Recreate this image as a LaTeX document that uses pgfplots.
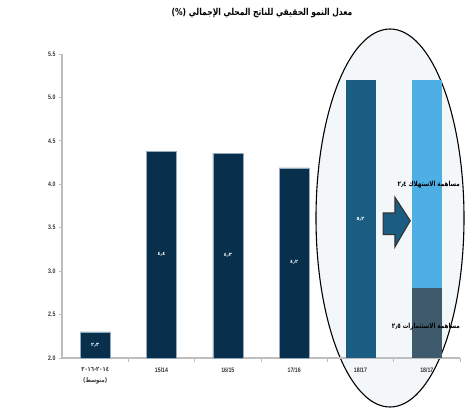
\documentclass[border=0pt]{standalone}
\usepackage{pgfplots}
\pgfplotsset{compat=1.18}
\usepackage{fontspec}
\setmainfont{Liberation Sans}
\newfontfamily\narrowfont[FakeStretch=0.8]{Liberation Sans}
\newfontfamily\arabicfont[Script=Arabic]{DejaVu Sans}
\newfontfamily\arabicnarrow[Script=Arabic,FakeStretch=0.8]{DejaVu Sans}
\TeXXeTstate=1
\definecolor{navy}{RGB}{8,48,77}
\definecolor{midblue}{RGB}{26,92,130}
\definecolor{lightblue}{RGB}{77,175,228}
\definecolor{slate}{RGB}{62,90,108}
\definecolor{ellfill}{RGB}{244,247,250}
\definecolor{axisgray}{RGB}{190,190,190}
\definecolor{baredge}{RGB}{150,170,190}
\begin{document}
\begin{tikzpicture}[x=1pt,y=1pt]
\useasboundingbox (0,0) rectangle (471,408);
\filldraw[fill=ellfill, draw=black, line width=1.1pt] (390,190) ellipse [x radius=74, y radius=189];
\node[font=\arabicnarrow\bfseries\fontsize{9.5}{10}\selectfont] at (262,395) {\beginR معدل النمو الحقيقي للناتج المحلي الإجمالي (\%)\endR};
\begin{axis}[
  at={(62pt,50pt)}, anchor=south west,
  width=398pt, height=304pt, scale only axis,
  xmin=-0.5, xmax=5.5, ymin=2, ymax=5.5,
  axis x line*=bottom, axis y line*=left,
  axis line style={draw=axisgray, line width=1.5pt, -},
  xtick={0,1,2,3,4,5},
  xticklabels={{\arabicnarrow\mbox{٢٠١٦}-\mbox{٢٠١٤}\\\arabicnarrow\beginR(متوسط)\endR}, 15/14, 16/15, 17/16, 18/17, 18/17},
  xticklabel style={align=center, yshift=-3pt, font=\narrowfont\bfseries\fontsize{6.5}{11}\selectfont, text=black!80},
  major x tick style={draw=none},
  minor xtick={0.5,1.5,2.5,3.5,4.5,5.5},
  minor x tick style={draw=axisgray, line width=0.8pt},
  minor tick length=4pt,
  ytick={2,2.5,3,3.5,4,4.5,5,5.5},
  yticklabel style={font=\narrowfont\bfseries\fontsize{6.5}{7}\selectfont, text=black!80, /pgf/number format/fixed, /pgf/number format/fixed zerofill, /pgf/number format/precision=1, /pgf/number format/assume math mode=true},
  y tick style={draw=axisgray, line width=0.8pt},
  major tick length=3pt,
  tick align=outside,
  clip=false,
]
\addplot[ybar, bar width=30pt, bar shift=0pt, fill=navy, draw=baredge, line width=0.4pt]
  coordinates {(0,2.3) (1,4.38) (2,4.36) (3,4.19)};
\addplot[ybar, bar width=30pt, bar shift=0pt, fill=midblue, draw=none]
  coordinates {(4,5.2)};
\addplot[ybar, bar width=30pt, bar shift=0pt, fill=lightblue, draw=none]
  coordinates {(5,5.2)};
\addplot[ybar, bar width=30pt, bar shift=0pt, fill=slate, draw=none]
  coordinates {(5,2.81)};
\filldraw[fill=midblue, draw=black!80, line width=1.1pt]
  (axis cs:4.34,3.67) -- (axis cs:4.52,3.67) -- (axis cs:4.52,3.85) -- (axis cs:4.75,3.58)
  -- (axis cs:4.52,3.28) -- (axis cs:4.52,3.42) -- (axis cs:4.34,3.42) -- cycle;
\begin{scope}[every node/.style={text=white, font=\arabicfont\bfseries\fontsize{5}{6}\selectfont}]
\node at (axis cs:0,2.15) {٢٫٣};
\node at (axis cs:1,3.19) {٤٫٤};
\node at (axis cs:2,3.18) {٤٫٣};
\node at (axis cs:3,3.1) {٤٫٢};
\node at (axis cs:4,3.6) {٥٫٢};
\end{scope}
\node[anchor=east, font=\arabicnarrow\bfseries\fontsize{7}{8}\selectfont, inner sep=0pt] at (axis cs:5.5,3.99) {\beginR مساهمة الاستهلاك ٢٫٤\endR};
\node[anchor=east, font=\arabicnarrow\bfseries\fontsize{7}{8}\selectfont, inner sep=0pt] at (axis cs:5.5,2.36) {\beginR مساهمة الاستثمارات ٢٫٥\endR};
\end{axis}
\end{tikzpicture}
\end{document}
